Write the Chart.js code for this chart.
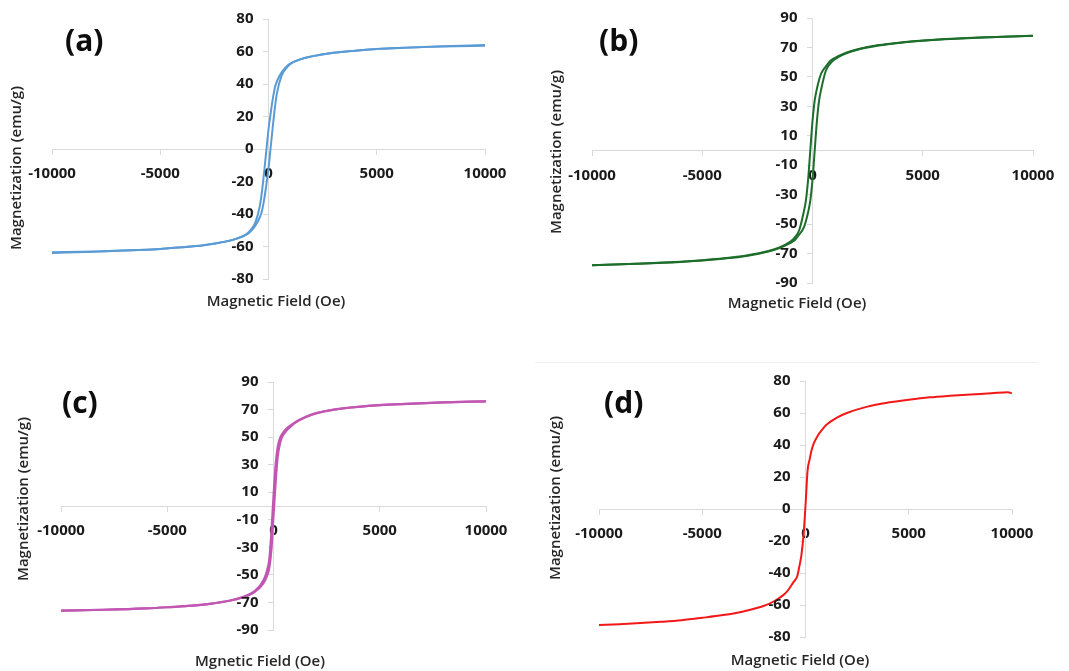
<!DOCTYPE html>
<html>
<head>
<meta charset="utf-8">
<script src="https://cdn.jsdelivr.net/npm/chart.js@4.4.0/dist/chart.umd.min.js"></script>
<style>
  body { margin: 0; background: #fff; width: 1069px; height: 671px; position: relative; overflow: hidden; font-family: 'Open Sans', sans-serif; }
  canvas { position: absolute; }
  .panel-label { position: absolute; font-size: 30px; font-weight: 700; color: #0d0d0d; line-height: 1; transform: translateY(-50%); }
  .x-title { position: absolute; font-size: 15px; font-weight: 600; color: #262626; white-space: nowrap; transform: translate(-50%, -50%); }
  .y-title { position: absolute; font-size: 15px; font-weight: 600; color: #262626; white-space: nowrap; transform: translate(-50%, -50%) rotate(-90deg); }
  .rule { position: absolute; left: 535px; top: 362px; width: 503px; height: 1px; background: #f0f0f0; }
</style>
</head>
<body>
<canvas id="chart_a" width="530" height="330" style="left:0px;top:0px"></canvas>
<canvas id="chart_b" width="539" height="330" style="left:530px;top:0px"></canvas>
<canvas id="chart_c" width="530" height="331" style="left:0px;top:340px"></canvas>
<canvas id="chart_d" width="539" height="331" style="left:530px;top:340px"></canvas>
<div class="rule"></div>

<div class="panel-label" style="left:65px;top:40px">(a)</div>
<div class="panel-label" style="left:599px;top:40px">(b)</div>
<div class="panel-label" style="left:62px;top:402px">(c)</div>
<div class="panel-label" style="left:604px;top:402px">(d)</div>

<div class="x-title" style="left:276px;top:300px">Magnetic Field (Oe)</div>
<div class="x-title" style="left:797px;top:302px">Magnetic Field (Oe)</div>
<div class="x-title" style="left:260px;top:660px">Mgnetic Field (Oe)</div>
<div class="x-title" style="left:800px;top:659px">Magnetic Field (Oe)</div>

<div class="y-title" style="left:15px;top:168px">Magnetization (emu/g)</div>
<div class="y-title" style="left:555px;top:152px">Magnetization (emu/g)</div>
<div class="y-title" style="left:22px;top:499px">Magnetization (emu/g)</div>
<div class="y-title" style="left:554px;top:498px">Magnetization (emu/g)</div>

<script>
// field values (Oe) shared by panels a-c
const field = [-10000, -8000, -6000, -5000, -4000, -3000, -2000, -1500, -1000, -800, -600, -400, -300, -200, -100, 0,
               100, 200, 300, 400, 600, 800, 1000, 1500, 2000, 3000, 4000, 5000, 6000, 8000, 10000];

// (a) ascending / descending branch
const aUp   = [-63.5, -63, -62.2, -61.5, -60.5, -59.2, -57, -55.3, -52.6, -50.3, -47, -42, -38, -31, -22, -12,
               1, 14, 26, 35, 45, 49.5, 52.2, 55.3, 57, 59.2, 60.5, 61.5, 62.2, 63.2, 64];
const aDown = [-64, -63.2, -62.2, -61.5, -60.5, -59.2, -57, -55.3, -52.2, -49.5, -45, -35, -26, -14, -1, 12,
               22, 31, 38, 42, 47, 50.3, 52.6, 55.3, 57, 59.2, 60.5, 61.5, 62.2, 63, 63.5];

// (b)
const bUp   = [-78, -77, -75.7, -74.7, -73.4, -71.6, -68.6, -66.3, -62.8, -60.8, -57, -52.5, -48, -42, -34, -20,
               0, 20, 34, 42, 54, 59, 61.8, 65.8, 68.3, 71.3, 73.2, 74.5, 75.5, 77, 78];
const bDown = [-78, -77, -75.5, -74.5, -73.2, -71.3, -68.3, -65.8, -61.8, -59, -54, -42, -34, -20, 0, 20,
               34, 42, 48, 52.5, 57, 60.8, 62.8, 66.3, 68.6, 71.6, 73.4, 74.7, 75.7, 77, 78];

// (c)
const cUp   = [-76, -75.3, -74.3, -73.5, -72.5, -71, -68.6, -66.6, -63.5, -61.3, -58.5, -54, -50.5, -45, -32, -7,
               17, 36, 45, 50, 54.5, 57.5, 60.2, 64.4, 67.2, 70.3, 72, 73.2, 74, 75.2, 76];
const cDown = [-76, -75.3, -74.3, -73.5, -72.5, -71, -68.4, -66.3, -63, -60.5, -57, -51.5, -46.5, -39, -19, 7,
               30, 43, 49, 52, 56, 58.5, 60.7, 64.6, 67.4, 70.3, 72, 73.2, 74, 75.2, 76];

// (d)
const dField = [-10000, -9000, -8000, -7000, -6000, -5000, -4000, -3000, -2000, -1500, -1000, -800, -600, -400, -300, -200, -100, 0,
                100, 200, 300, 400, 600, 800, 1000, 1500, 2000, 3000, 4000, 5000, 6000, 7000, 8000, 9000, 9800, 10000];
const dMag   = [-72.5, -72, -71.3, -70.5, -69.5, -68, -66.3, -64, -60.5, -57.5, -53, -50, -46, -42, -36, -29, -17, 2,
                24, 31, 37, 41, 46, 49.5, 52.5, 57, 60, 64, 66.5, 68.3, 69.8, 70.8, 71.6, 72.3, 73, 72.3];

const xTicks = [-10000, -5000, 0, 5000, 10000];
const yTicks80 = [-80, -60, -40, -20, 0, 20, 40, 60, 80];
const yTicks90 = [-90, -70, -50, -30, -10, 10, 30, 50, 70, 90];


function createDrawChart(ctx, chart_type, data, options, plugins) {
  return new Chart(ctx, {
    type: chart_type,
    data: data,
    options: options,
    plugins: plugins
  });
}

function toPoints(xs, ys) {
  return xs.map((x, i) => ({ x: x, y: ys[i] }));
}

function lineSet(xs, ys, color, width) {
  return {
    data: toPoints(xs, ys),
    showLine: true,
    borderColor: color,
    borderWidth: width,
    pointRadius: 0,
    cubicInterpolationMode: 'monotone',
    fill: false
  };
}

const tickFont = { family: 'Open Sans', size: 15, weight: 'bold' };

// y labels of a centred axis ignore ticks.padding, so draw them beside the axis line
const yTickLabels = {
  id: 'yTickLabels',
  afterDraw(chart) {
    const ctx = chart.ctx;
    const ys = chart.scales.y;
    const xAt = chart.scales.x.getPixelForValue(0) - 15;
    ctx.save();
    ctx.font = 'bold 15px "Open Sans"';
    ctx.fillStyle = '#1a1a1a';
    ctx.textAlign = 'right';
    ctx.textBaseline = 'middle';
    ys.ticks.forEach(t => ctx.fillText(String(t.value), xAt, ys.getPixelForValue(t.value)));
    ctx.restore();
  }
};

function panelOptions(yTicks, pad) {
  return {
    responsive: false,
    animation: false,
    layout: { padding: pad },
    plugins: {
      legend: { display: false },
      tooltip: { enabled: false }
    },
    scales: {
      x: {
        type: 'linear',
        min: -10000,
        max: 10000,
        position: { y: 0 },
        afterBuildTicks: scale => { scale.ticks = xTicks.map(v => ({ value: v })); },
        grid: { drawOnChartArea: false, color: '#d9d9d9', tickLength: 5 },
        border: { color: '#d9d9d9', width: 1 },
        ticks: { padding: 11, color: '#1a1a1a', font: tickFont, maxRotation: 0, autoSkip: false, callback: v => String(v) }
      },
      y: {
        type: 'linear',
        min: yTicks[0],
        max: yTicks[yTicks.length - 1],
        position: { x: 0 },
        afterBuildTicks: scale => { scale.ticks = yTicks.map(v => ({ value: v })); },
        grid: { drawOnChartArea: false, color: '#d9d9d9', tickLength: 5 },
        border: { color: '#d9d9d9', width: 1 },
        ticks: { display: false }
      }
    }
  };
}


document.addEventListener('DOMContentLoaded', function() {
  const blue = '#5b9bd5';
  const green = '#1d6e2b';
  const pink = '#c157b2';
  const red = '#f21818';

  createDrawChart(document.getElementById('chart_a').getContext('2d'), 'scatter',
    { datasets: [lineSet(field, aDown, blue, 2), lineSet(field, aUp, blue, 2)] },
    panelOptions(yTicks80, { left: 52, right: 45, top: 19, bottom: 51 }), [yTickLabels]);

  createDrawChart(document.getElementById('chart_b').getContext('2d'), 'scatter',
    { datasets: [lineSet(field, bDown, green, 2), lineSet(field, bUp, green, 2)] },
    panelOptions(yTicks90, { left: 62, right: 36, top: 18, bottom: 47 }), [yTickLabels]);

  createDrawChart(document.getElementById('chart_c').getContext('2d'), 'scatter',
    { datasets: [lineSet(field, cDown, pink, 2.2), lineSet(field, cUp, pink, 2.2)] },
    panelOptions(yTicks90, { left: 61, right: 44, top: 42, bottom: 41 }), [yTickLabels]);

  createDrawChart(document.getElementById('chart_d').getContext('2d'), 'scatter',
    { datasets: [lineSet(dField, dMag, red, 2)] },
    panelOptions(yTicks80, { left: 69, right: 57, top: 41, bottom: 34 }), [yTickLabels]);
});
</script>
</body>
</html>
